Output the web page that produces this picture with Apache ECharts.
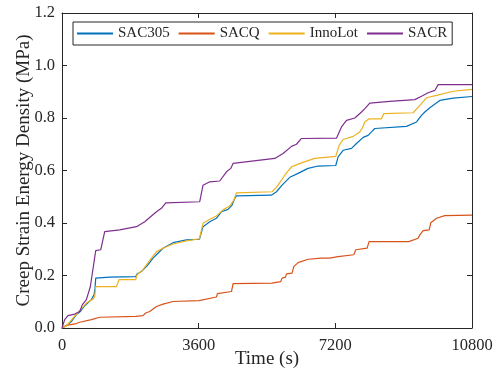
<!DOCTYPE html>
<html>
<head>
<meta charset="utf-8">
<script src="https://cdn.jsdelivr.net/npm/echarts@6/dist/echarts.min.js"></script>
<style>
  html, body { margin: 0; padding: 0; background: #fff; }
  #chart { width: 495px; height: 379px; }
</style>
</head>
<body>
<div id="chart"></div>
<script>
// series names and colours
const names = ['SAC305', 'SACQ', 'InnoLot', 'SACR']
const colors = ['#0072BD', '#D95319', '#EDB120', '#7E2F8E']
const xTicks = [0, 3600, 7200, 10800]

// [time (s), creep strain energy density (MPa)]
const sac305 = [
  [0, 0], [115, 0.009], [248, 0.025], [379, 0.051], [485, 0.063], [598, 0.085],
  [775, 0.108], [843, 0.127], [870, 0.150], [888, 0.190], [1257, 0.194], [1942, 0.196],
  [1976, 0.206], [2092, 0.215], [2266, 0.241], [2398, 0.266], [2487, 0.279], [2661, 0.304],
  [2925, 0.325], [3278, 0.336], [3620, 0.338], [3715, 0.386], [3892, 0.405], [4068, 0.418],
  [4200, 0.443], [4374, 0.452], [4480, 0.468], [4551, 0.494], [4595, 0.503], [5517, 0.506],
  [5649, 0.519], [5797, 0.544], [6000, 0.574], [6219, 0.589], [6482, 0.608], [6746, 0.617],
  [7212, 0.619], [7273, 0.652], [7405, 0.677], [7626, 0.684], [7757, 0.703], [7933, 0.726],
  [8063, 0.734], [8153, 0.747], [8240, 0.760], [9075, 0.768], [9339, 0.785], [9470, 0.810],
  [9557, 0.823], [9689, 0.839], [9952, 0.867], [10303, 0.876], [10800, 0.882]
]
const sacq = [
  [0, 0], [115, 0.010], [379, 0.017], [466, 0.022], [775, 0.032], [993, 0.041],
  [1942, 0.044], [2134, 0.047], [2205, 0.057], [2311, 0.063], [2487, 0.082], [2661, 0.091],
  [2925, 0.101], [3610, 0.104], [4068, 0.118], [4095, 0.131], [4464, 0.139], [4506, 0.169],
  [5533, 0.171], [5763, 0.177], [5797, 0.190], [5887, 0.194], [5913, 0.206], [6061, 0.209],
  [6105, 0.234], [6219, 0.249], [6482, 0.262], [6835, 0.266], [7054, 0.266], [7273, 0.272],
  [7686, 0.279], [7739, 0.298], [8037, 0.304], [8089, 0.329], [9136, 0.329], [9162, 0.336],
  [9381, 0.342], [9426, 0.355], [9513, 0.371], [9671, 0.374], [9715, 0.401], [9865, 0.418],
  [10084, 0.428], [10800, 0.430]
]
const innolot = [
  [0, 0], [115, 0.008], [290, 0.038], [466, 0.066], [642, 0.095], [817, 0.110],
  [862, 0.120], [888, 0.158], [1433, 0.158], [1502, 0.184], [1942, 0.184], [1976, 0.203],
  [2134, 0.222], [2355, 0.266], [2487, 0.291], [2661, 0.304], [2925, 0.320], [3278, 0.332],
  [3620, 0.340], [3715, 0.399], [3892, 0.414], [4068, 0.427], [4242, 0.450], [4419, 0.465],
  [4532, 0.488], [4595, 0.515], [5533, 0.519], [5649, 0.536], [5781, 0.563], [5869, 0.582],
  [6045, 0.614], [6308, 0.629], [6659, 0.646], [7212, 0.654], [7300, 0.696], [7405, 0.718],
  [7668, 0.730], [7845, 0.747], [7915, 0.763], [7976, 0.785], [8089, 0.797], [8416, 0.797],
  [8477, 0.817], [9250, 0.820], [9426, 0.848], [9602, 0.877], [9865, 0.886], [10303, 0.902],
  [10800, 0.909]
]
const sacr = [
  [0, 0], [71, 0.032], [158, 0.047], [335, 0.053], [466, 0.063], [537, 0.089],
  [642, 0.108], [747, 0.158], [888, 0.295], [1020, 0.298], [1125, 0.367], [1520, 0.374],
  [1960, 0.386], [2180, 0.405], [2487, 0.443], [2619, 0.456], [2733, 0.477], [3628, 0.481],
  [3715, 0.544], [3892, 0.557], [4155, 0.560], [4332, 0.595], [4445, 0.608], [4506, 0.627],
  [5605, 0.646], [5823, 0.665], [6045, 0.692], [6177, 0.700], [6308, 0.722], [7230, 0.723],
  [7362, 0.766], [7494, 0.791], [7713, 0.800], [7889, 0.823], [7976, 0.836], [8108, 0.857],
  [8635, 0.863], [9294, 0.870], [9470, 0.883], [9644, 0.896], [9821, 0.905], [9908, 0.927],
  [10800, 0.927]
]
const seriesData = [sac305, sacq, innolot, sacr]

const axisColor = '#262626'
const font = 'Liberation Serif'

const chart = echarts.init(document.getElementById('chart'), null, { renderer: 'canvas' })

const frameAxis = (pos, extra) => Object.assign({
  type: 'value',
  position: pos,
  axisLine: { show: true, onZero: false, lineStyle: { color: axisColor, width: 1 } },
  axisTick: { show: true, inside: true, length: 5, lineStyle: { color: axisColor } },
  axisLabel: { show: false },
  splitLine: { show: false }
}, extra)

chart.setOption({
  animation: false,
  color: colors,
  textStyle: { fontFamily: font },
  grid: { left: 62, right: 23, top: 13, bottom: 51, outerBoundsMode: 'none' },
  legend: {
    data: names,
    left: 73,
    top: 22,
    padding: [4, 5, 4, 4],
    itemWidth: 36,
    itemHeight: 2,
    itemGap: 9,
    borderColor: axisColor,
    borderWidth: 1,
    icon: 'rect',
    textStyle: { fontFamily: font, fontSize: 15, color: axisColor }
  },
  xAxis: [
    frameAxis('bottom', {
      min: 0, max: 10800, interval: 3600,
      axisLabel: { show: true, color: axisColor, fontFamily: font, fontSize: 16.5, margin: 9,
        formatter: (v) => xTicks.includes(v) ? String(v) : '' },
      name: 'Time (s)',
      nameLocation: 'middle',
      nameGap: 22,
      nameMoveOverlap: false,
      nameTextStyle: { color: axisColor, fontFamily: font, fontSize: 19 }
    }),
    frameAxis('top', { min: 0, max: 10800, interval: 3600 })
  ],
  yAxis: [
    frameAxis('left', {
      min: 0, max: 1.2, interval: 0.2,
      axisLabel: { show: true, color: axisColor, fontFamily: font, fontSize: 16.5, margin: 7,
        formatter: (v) => v.toFixed(1) },
      name: 'Creep Strain Energy Density (MPa)',
      nameLocation: 'middle',
      nameGap: 28,
      nameMoveOverlap: false,
      nameTextStyle: { color: axisColor, fontFamily: font, fontSize: 19 }
    }),
    frameAxis('right', { min: 0, max: 1.2, interval: 0.2 })
  ],
  series: names.map((name, i) => ({
    name: name,
    type: 'line',
    data: seriesData[i],
    showSymbol: false,
    symbol: 'none',
    lineStyle: { width: 1.2, color: colors[i] },
    itemStyle: { color: colors[i] }
  }))
})
</script>
</body>
</html>
